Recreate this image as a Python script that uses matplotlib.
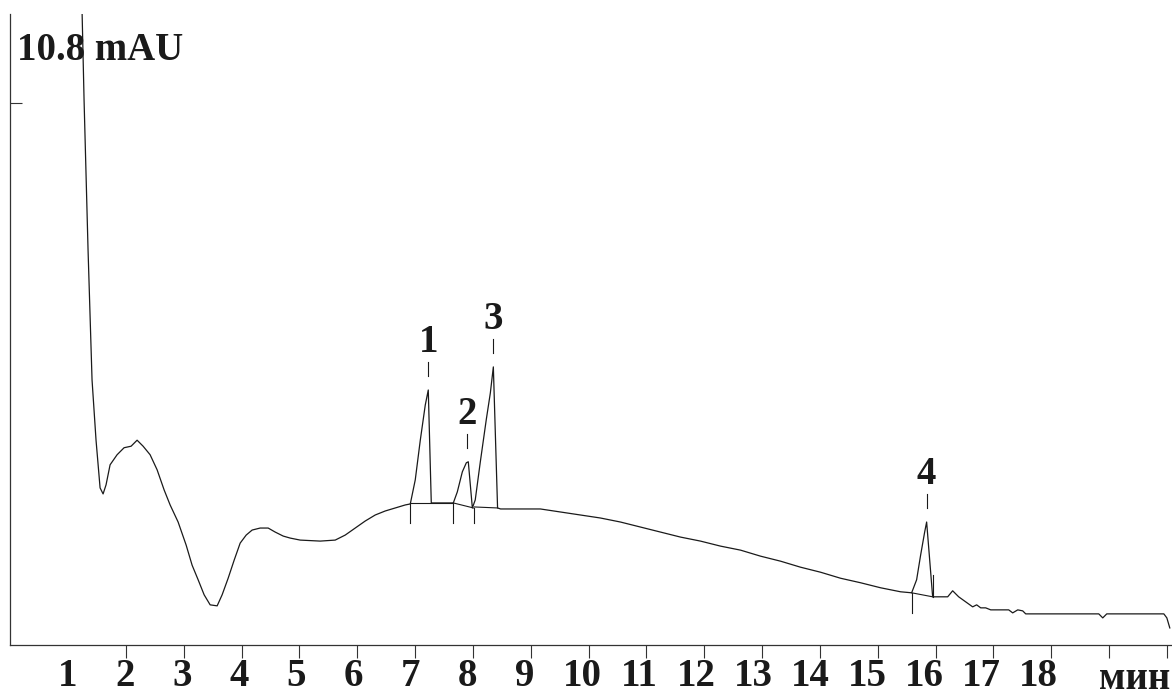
import numpy as np
import matplotlib
matplotlib.use("Agg")
import matplotlib.pyplot as plt

# chromatogram trace (time in min, signal in mAU)
t = [1.242, 1.277, 1.346, 1.415, 1.484, 1.554, 1.606, 1.657, 1.727, 1.848,
     1.969, 2.09, 2.194, 2.298, 2.419, 2.54, 2.661, 2.765, 2.903, 3.042,
     3.145, 3.249, 3.353, 3.457, 3.578, 3.664, 3.768, 3.872, 3.976, 4.08,
     4.183, 4.322, 4.46, 4.581, 4.72, 4.841, 5.014, 5.36, 5.619, 5.792,
     5.965, 6.138, 6.311, 6.484, 6.657, 6.83, 6.917,
     7.003, 7.09, 7.176, 7.228, 7.28, 7.436, 7.644,
     7.661, 7.73, 7.817, 7.886, 7.92, 7.99,
     8.04, 8.128, 8.232, 8.301, 8.353, 8.426,
     8.478, 9.166, 9.512, 9.858, 10.204, 10.55, 10.896, 11.242, 11.588, 11.934,
     12.28, 12.626, 12.972, 13.318, 13.664, 14.01, 14.356, 14.702, 15.048, 15.394,
     15.585, 15.671, 15.74, 15.81, 15.844, 15.948,
     16.087, 16.208, 16.294, 16.398, 16.519, 16.64, 16.709, 16.779, 16.865, 16.952,
     17.125, 17.263, 17.332, 17.419, 17.505, 17.557, 18.82, 18.889, 18.958, 19.945,
     19.997, 20.048]
signal = [12.65, 10.86, 7.87, 5.28, 4.08, 3.13, 3.01, 3.19, 3.59, 3.79,
          3.93, 3.96, 4.08, 3.96, 3.79, 3.49, 3.09, 2.79, 2.45, 1.99,
          1.59, 1.30, 1.00, 0.80, 0.78, 1.00, 1.33, 1.69, 2.03, 2.19,
          2.29, 2.33, 2.33, 2.25, 2.17, 2.13, 2.09, 2.07, 2.09, 2.19,
          2.33, 2.47, 2.59, 2.67, 2.73, 2.79, 2.81,
          3.29, 4.08, 4.78, 5.08, 2.83, 2.83, 2.83,
          2.83, 3.05, 3.45, 3.63, 3.65, 2.73,
          2.89, 3.65, 4.50, 5.02, 5.54, 2.73,
          2.71, 2.71, 2.65, 2.59, 2.53, 2.45, 2.35, 2.25, 2.15, 2.07,
          1.97, 1.89, 1.77, 1.67, 1.55, 1.45, 1.33, 1.24, 1.14, 1.06,
          1.04, 1.30, 1.79, 2.25, 2.45, 0.96,
          0.96, 0.96, 1.08, 0.96, 0.86, 0.76, 0.80, 0.74, 0.74, 0.70,
          0.70, 0.70, 0.64, 0.70, 0.68, 0.62, 0.62, 0.54, 0.62, 0.62,
          0.54, 0.34]

# integration baselines (start t, end t, start v, end v)
base_t0 = [6.917, 7.661, 8.025, 15.585]
base_t1 = [7.661, 8.01, 8.426, 15.948]
base_v0 = [2.83, 2.83, 2.75, 1.04]
base_v1 = [2.83, 2.73, 2.73, 0.96]

# peak start/end markers (t, top v, bottom v)
mark_t = [6.917, 7.661, 8.025, 15.585, 15.948]
mark_top = [2.83, 2.83, 2.73, 1.04, 1.40]
mark_bot = [2.43, 2.43, 2.43, 0.64, 0.96]

# numbered peaks
peak_names = ["1", "2", "3", "4"]
peak_t = [7.228, 7.9, 8.353, 15.844]
peak_v = [5.08, 3.65, 5.54, 2.45]

tick_pos = list(range(1, 21))
tick_labels = [str(i) for i in range(1, 19)]

fam = ["Liberation Serif", "DejaVu Serif"]
plt.rcParams["font.family"] = fam
fs = 28

fig = plt.figure(figsize=(11.72, 6.97), dpi=100)
ax = fig.add_axes([0.0087, 0.0746, 0.991, 0.9053])

lc = "#1a1a1a"
ax.plot(t, signal, color=lc, lw=0.9)
for a, b, c, d in zip(base_t0, base_t1, base_v0, base_v1):
    ax.plot([a, b], [c, d], color=lc, lw=0.8)
for x, top, bot in zip(mark_t, mark_top, mark_bot):
    ax.plot([x, x], [bot, top], color=lc, lw=0.8)

for name, x, v in zip(peak_names, peak_t, peak_v):
    ax.plot([x, x], [v + 0.28, v + 0.56], color=lc, lw=0.8)
    ax.text(x, v + 0.95, name, ha="center", va="center", fontsize=fs,
            fontweight="bold", color=lc)

ax.set_xlim(0, 20.08)
ax.set_ylim(0, 12.57)

for s in ["top", "right"]:
    ax.spines[s].set_visible(False)
ax.spines["left"].set_color("#333333")
ax.spines["bottom"].set_color("#333333")
ax.spines["left"].set_linewidth(0.9)
ax.spines["bottom"].set_linewidth(0.9)

# tick marks on integer minutes, labels drift slightly as in the original print
ax.set_xticks(tick_pos, minor=True)
ax.tick_params(axis="x", which="minor", direction="out", length=9.5, width=0.8,
               color="#333333")
label_pos = [k - (k - 1) * 0.0128 for k in range(1, 19)]
ax.set_xticks(label_pos)
ax.set_xticklabels(tick_labels, fontsize=fs, fontweight="bold", color=lc)
ax.tick_params(axis="x", which="major", length=0, pad=9)

ax.set_yticks([10.8])
ax.set_yticklabels([])
ax.tick_params(axis="y", direction="in", length=8.5, width=0.8, color="#333333")

ax.text(0.12, 11.85, "10.8 mAU", ha="left", va="center", fontsize=fs,
        fontweight="bold", color=lc)
ax.text(19.44, -0.88, "мин", ha="center", va="baseline", fontsize=fs,
        fontweight="bold", color=lc, clip_on=False)

fig.savefig("out.png", dpi=100)
